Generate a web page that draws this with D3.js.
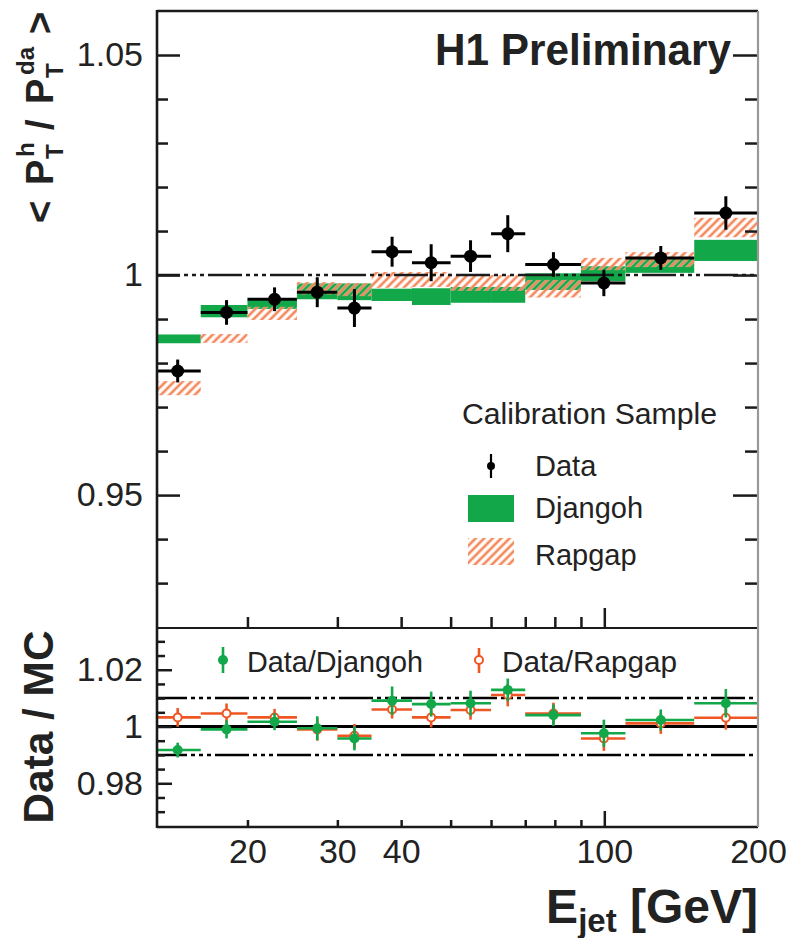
<!DOCTYPE html>
<html>
<head>
<meta charset="utf-8">
<script src="https://cdn.jsdelivr.net/npm/d3@7"></script>
<style>
  html, body { margin: 0; padding: 0; background: #fff; }
  svg text { font-family: "Liberation Sans", Arial, Helvetica, sans-serif; fill: #222; }
</style>
</head>
<body>
<svg id="chart" width="790" height="938"></svg>
<script>
// ---- Jet energy binning [GeV] ----
const binEdges   = [13.3, 16.2, 20, 25, 30, 35, 42, 50, 60, 70, 90, 110, 150, 200];
const binCentres = [14.6, 18.2, 22.6, 27.4, 32.4, 38.4, 45.8, 54.7, 64.7, 79.5, 99.8, 129, 173];

// ---- <P_T^h / P_T^da> : data points with statistical errors ----
const dataMean = [0.9782, 0.9915, 0.9945, 0.9961, 0.9925, 1.0053, 1.0028, 1.0043, 1.0094, 1.0024, 0.9982, 1.0039, 1.0141];
const dataErr  = [0.0026, 0.0028, 0.0027, 0.0034, 0.0043, 0.0034, 0.0042, 0.0036, 0.0042, 0.0028, 0.0030, 0.0027, 0.0038];

// ---- Monte Carlo bands (centre, half-width) ----
const djangohMean = [0.9855, 0.9918, 0.9933, 0.9963, 0.9962, 0.9955, 0.9951, 0.9955, 0.9955, 0.9985, 1.0003, 1.0023, 1.0056];
const djangohErr  = [0.0010, 0.0014, 0.0010, 0.0018, 0.0019, 0.0014, 0.0019, 0.0018, 0.0018, 0.0019, 0.0017, 0.0018, 0.0024];
const rapgapMean  = [0.9743, 0.9856, 0.9913, 0.9970, 0.9967, 0.9989, 0.9990, 0.9982, 0.9982, 0.9969, 1.0025, 1.0035, 1.0108];
const rapgapErr   = [0.0016, 0.0010, 0.0015, 0.0014, 0.0015, 0.0018, 0.0017, 0.0018, 0.0018, 0.0020, 0.0014, 0.0017, 0.0022];

// ---- Data / MC ratios ----
const ratioDjangoh    = [0.9917, 0.9990, 1.0017, 0.9994, 0.9958, 1.0091, 1.0079, 1.0082, 1.0129, 1.0040, 0.9976, 1.0023, 1.0082];
const ratioDjangohErr = [0.0026, 0.0032, 0.0030, 0.0042, 0.0042, 0.0050, 0.0044, 0.0044, 0.0040, 0.0038, 0.0048, 0.0037, 0.0050];
const ratioRapgap     = [1.0032, 1.0046, 1.0032, 0.9990, 0.9967, 1.0060, 1.0032, 1.0058, 1.0111, 1.0046, 0.9958, 1.0011, 1.0031];
const ratioRapgapErr  = [0.0033, 0.0035, 0.0030, 0.0040, 0.0042, 0.0032, 0.0035, 0.0034, 0.0040, 0.0038, 0.0044, 0.0037, 0.0042];

// ---- Axis ticks ----
const xLabelTicks   = [20, 30, 40, 100, 200];
const xMinorTicks   = [20, 30, 40, 50, 60, 70, 80, 90];
const xMajorTicks   = [100];
const yTopMajor     = [0.95, 1, 1.05];
const yTopMinor     = [0.93, 0.94, 0.96, 0.97, 0.98, 0.99, 1.01, 1.02, 1.03, 1.04];
const yBotMajor     = [0.98, 1, 1.02];
const yBotMinor     = [0.97, 0.975, 0.985, 0.99, 0.995, 1.005, 1.01, 1.015, 1.025, 1.03];
const ratioBandLines = [0.99, 1.01];

// ---- Layout ----
const L = 157, R = 758, T = 11, M = 628, B = 827;
const GREEN = "#12a84a", ORANGE = "#ee5624", INK = "#1a1a1a";
const DASHDOT = "34 4 4 4 4 4 4 4";

const svg = d3.select("#chart");
const x = d3.scaleLog().domain([13.3, 200]).range([L, R]);
const yTop = d3.scaleLinear().domain([0.9198, 1.06]).range([M, T]);
const yBot = d3.scaleLinear().domain([0.9646, 1.0347]).range([B, M]);

// Diagonal hatch for the Rapgap band
const defs = svg.append("defs");
const hatch = defs.append("pattern")
  .attr("id", "hatch").attr("patternUnits", "userSpaceOnUse")
  .attr("width", 6).attr("height", 6).attr("patternTransform", "rotate(45)");
hatch.append("line").attr("x1", 3).attr("y1", 0).attr("x2", 3).attr("y2", 6)
  .attr("stroke", "#fbc0a4").attr("stroke-width", 3.2);
hatch.append("line").attr("x1", 3).attr("y1", 0).attr("x2", 3).attr("y2", 6)
  .attr("stroke", "#f06a36").attr("stroke-width", 1.3);

defs.append("clipPath").attr("id", "clipTop").append("rect")
  .attr("x", L).attr("y", T).attr("width", R - L).attr("height", M - T);
defs.append("clipPath").attr("id", "clipBot").append("rect")
  .attr("x", L).attr("y", M).attr("width", R - L).attr("height", B - M);

const bins = binCentres.map((c, i) => ({ i, c, lo: binEdges[i], hi: binEdges[i + 1] }));

// ================= Upper panel =================
const upper = svg.append("g").attr("clip-path", "url(#clipTop)");

// Djangoh band
upper.append("g").selectAll("rect").data(bins).join("rect")
  .attr("x", d => x(d.lo)).attr("width", d => x(d.hi) - x(d.lo))
  .attr("y", d => yTop(djangohMean[d.i] + djangohErr[d.i]))
  .attr("height", d => yTop(djangohMean[d.i] - djangohErr[d.i]) - yTop(djangohMean[d.i] + djangohErr[d.i]))
  .attr("fill", GREEN);

// Rapgap band
upper.append("g").selectAll("rect").data(bins).join("rect")
  .attr("x", d => x(d.lo)).attr("width", d => x(d.hi) - x(d.lo))
  .attr("y", d => yTop(rapgapMean[d.i] + rapgapErr[d.i]))
  .attr("height", d => yTop(rapgapMean[d.i] - rapgapErr[d.i]) - yTop(rapgapMean[d.i] + rapgapErr[d.i]))
  .attr("fill", "url(#hatch)");

// Reference line at unity
upper.append("line").attr("x1", L).attr("x2", R).attr("y1", yTop(1)).attr("y2", yTop(1))
  .attr("stroke", INK).attr("stroke-width", 2.5).attr("stroke-dasharray", DASHDOT).attr("stroke-dashoffset", 11);

// Data points
const dp = upper.append("g").selectAll("g").data(bins).join("g");
dp.append("line")
  .attr("x1", d => x(d.lo)).attr("x2", d => x(d.hi))
  .attr("y1", d => yTop(dataMean[d.i])).attr("y2", d => yTop(dataMean[d.i]))
  .attr("stroke", "#000").attr("stroke-width", 3);
dp.append("line")
  .attr("x1", d => x(d.c)).attr("x2", d => x(d.c))
  .attr("y1", d => yTop(dataMean[d.i] - dataErr[d.i])).attr("y2", d => yTop(dataMean[d.i] + dataErr[d.i]))
  .attr("stroke", "#000").attr("stroke-width", 3);
dp.append("circle")
  .attr("cx", d => x(d.c)).attr("cy", d => yTop(dataMean[d.i])).attr("r", 6.5).attr("fill", "#000");

// ================= Ratio panel =================
const lower = svg.append("g").attr("clip-path", "url(#clipBot)");

lower.append("line").attr("x1", L).attr("x2", R).attr("y1", yBot(1)).attr("y2", yBot(1))
  .attr("stroke", "#000").attr("stroke-width", 3);
lower.append("g").selectAll("line").data(ratioBandLines).join("line")
  .attr("x1", L).attr("x2", R).attr("y1", d => yBot(d)).attr("y2", d => yBot(d))
  .attr("stroke", "#000").attr("stroke-width", 2.5).attr("stroke-dasharray", DASHDOT).attr("stroke-dashoffset", 4);

function ratioSeries(vals, errs, colour, open) {
  const g = lower.append("g").selectAll("g").data(bins).join("g");
  g.append("line")
    .attr("x1", d => x(d.lo)).attr("x2", d => x(d.hi))
    .attr("y1", d => yBot(vals[d.i])).attr("y2", d => yBot(vals[d.i]))
    .attr("stroke", colour).attr("stroke-width", 2.6);
  g.append("line")
    .attr("x1", d => x(d.c)).attr("x2", d => x(d.c))
    .attr("y1", d => yBot(vals[d.i] - errs[d.i])).attr("y2", d => yBot(vals[d.i] + errs[d.i]))
    .attr("stroke", colour).attr("stroke-width", 2.6);
  g.append("circle")
    .attr("cx", d => x(d.c)).attr("cy", d => yBot(vals[d.i]))
    .attr("r", open ? 4 : 5)
    .attr("fill", open ? "#fff" : colour)
    .attr("stroke", colour).attr("stroke-width", open ? 2 : 0);
}
ratioSeries(ratioRapgap, ratioRapgapErr, ORANGE, true);
ratioSeries(ratioDjangoh, ratioDjangohErr, GREEN, false);

// ================= Axes =================
const fmt = d => d === 1 ? "1" : d3.format(".2f")(d);
function styleAxis(g) {
  g.select(".domain").remove();
  g.selectAll(".tick line").attr("stroke", INK).attr("stroke-width", 2.5);
  g.selectAll(".tick text").attr("font-size", 34).attr("fill", "#222")
    .attr("font-family", '"Liberation Sans", Arial, sans-serif');
}

// Upper panel, left
svg.append("g").attr("transform", `translate(${L},0)`)
  .call(d3.axisRight(yTop).tickValues(yTopMinor).tickSize(11).tickFormat(""))
  .call(styleAxis);
svg.append("g").attr("transform", `translate(${L},0)`)
  .call(d3.axisLeft(yTop).tickValues(yTopMajor).tickSize(-23).tickPadding(14).tickFormat(fmt))
  .call(styleAxis);
// Upper panel, right
svg.append("g").attr("transform", `translate(${R},0)`)
  .call(d3.axisLeft(yTop).tickValues(yTopMinor).tickSize(13).tickFormat(""))
  .call(styleAxis);
svg.append("g").attr("transform", `translate(${R},0)`)
  .call(d3.axisLeft(yTop).tickValues(yTopMajor).tickSize(25).tickFormat(""))
  .call(styleAxis);
// Upper panel, bottom edge
svg.append("g").attr("transform", `translate(0,${M})`)
  .call(d3.axisTop(x).tickValues(xMinorTicks).tickSize(11).tickFormat(""))
  .call(styleAxis);
svg.append("g").attr("transform", `translate(0,${M})`)
  .call(d3.axisTop(x).tickValues(xMajorTicks).tickSize(20).tickFormat(""))
  .call(styleAxis);

// Ratio panel, left
svg.append("g").attr("transform", `translate(${L},0)`)
  .call(d3.axisRight(yBot).tickValues(yBotMinor).tickSize(8).tickFormat(""))
  .call(styleAxis);
svg.append("g").attr("transform", `translate(${L},0)`)
  .call(d3.axisLeft(yBot).tickValues(yBotMajor).tickSize(-15).tickPadding(14).tickFormat(fmt))
  .call(styleAxis);
// Ratio panel, bottom edge
svg.append("g").attr("transform", `translate(0,${B})`)
  .call(d3.axisTop(x).tickValues(xMinorTicks).tickSize(7).tickFormat(""))
  .call(styleAxis);
svg.append("g").attr("transform", `translate(0,${B})`)
  .call(d3.axisTop(x).tickValues(xMajorTicks).tickSize(16).tickFormat(""))
  .call(styleAxis);
svg.append("g").attr("transform", `translate(0,${B})`)
  .call(d3.axisBottom(x).tickValues(xLabelTicks).tickSize(0).tickPadding(12).tickFormat(d3.format("d")))
  .call(styleAxis);

// Frame
const frame = svg.append("g");
frame.append("line").attr("x1", L).attr("x2", L).attr("y1", T - 1).attr("y2", B + 1).attr("stroke", INK).attr("stroke-width", 2.6);
frame.append("line").attr("x1", L).attr("x2", R).attr("y1", T).attr("y2", T).attr("stroke", INK).attr("stroke-width", 2.6);
frame.append("line").attr("x1", L).attr("x2", R).attr("y1", M).attr("y2", M).attr("stroke", INK).attr("stroke-width", 2.2);
frame.append("line").attr("x1", L).attr("x2", R).attr("y1", B).attr("y2", B).attr("stroke", INK).attr("stroke-width", 2.4);
frame.append("line").attr("x1", R).attr("x2", R).attr("y1", T).attr("y2", B).attr("stroke", "#999").attr("stroke-width", 2.2);

// ================= Text =================
svg.append("text").attr("x", 435).attr("y", 65)
  .attr("font-size", 45).attr("font-weight", "bold")
  .attr("textLength", 296).attr("lengthAdjust", "spacingAndGlyphs")
  .text("H1 Preliminary");

// Legend, upper panel
svg.append("text").attr("x", 462).attr("y", 424).attr("font-size", 29).attr("fill", "#333")
  .attr("textLength", 255).attr("lengthAdjust", "spacingAndGlyphs").text("Calibration Sample");
const leg = svg.append("g");
leg.append("line").attr("x1", 491).attr("x2", 491).attr("y1", 454).attr("y2", 478).attr("stroke", "#000").attr("stroke-width", 2.2);
leg.append("circle").attr("cx", 491).attr("cy", 466).attr("r", 4).attr("fill", "#000");
leg.append("text").attr("x", 535).attr("y", 476).attr("font-size", 29).text("Data");
leg.append("rect").attr("x", 468).attr("y", 495).attr("width", 46).attr("height", 27).attr("fill", GREEN);
leg.append("text").attr("x", 535).attr("y", 518).attr("font-size", 29).text("Djangoh");
leg.append("rect").attr("x", 468).attr("y", 538).attr("width", 46).attr("height", 27).attr("fill", "url(#hatch)");
leg.append("text").attr("x", 535).attr("y", 565).attr("font-size", 29).attr("fill", "#444").text("Rapgap");

// Legend, ratio panel
const leg2 = svg.append("g");
leg2.append("line").attr("x1", 223).attr("x2", 223).attr("y1", 647).attr("y2", 673).attr("stroke", GREEN).attr("stroke-width", 2.6);
leg2.append("circle").attr("cx", 223).attr("cy", 660).attr("r", 5).attr("fill", GREEN);
leg2.append("text").attr("x", 247).attr("y", 672).attr("font-size", 30).attr("fill", "#444")
  .attr("textLength", 176).attr("lengthAdjust", "spacingAndGlyphs").text("Data/Djangoh");
leg2.append("line").attr("x1", 479).attr("x2", 479).attr("y1", 648).attr("y2", 673).attr("stroke", ORANGE).attr("stroke-width", 2.6);
leg2.append("circle").attr("cx", 479).attr("cy", 660).attr("r", 4).attr("fill", "#fff").attr("stroke", ORANGE).attr("stroke-width", 2);
leg2.append("text").attr("x", 502).attr("y", 672).attr("font-size", 30).attr("fill", "#444")
  .attr("textLength", 175).attr("lengthAdjust", "spacingAndGlyphs").text("Data/Rapgap");

// X axis title
const xt = svg.append("text").attr("x", R).attr("y", 923).attr("text-anchor", "end")
  .attr("font-size", 48).attr("font-weight", "bold");
xt.append("tspan").text("E");
xt.append("tspan").attr("font-size", 33).attr("dy", 9).text("jet");
xt.append("tspan").attr("dy", -9).text(" [GeV]");

// Y axis title, ratio panel
svg.append("text").attr("transform", "translate(53,727) rotate(-90)")
  .attr("text-anchor", "middle").attr("font-size", 43).attr("font-weight", "bold")
  .attr("textLength", 193).attr("lengthAdjust", "spacingAndGlyphs")
  .text("Data / MC");

// Y axis title, upper panel: < P_T^h / P_T^da >
const yl = svg.append("g").attr("transform", "translate(53,223) rotate(-90)")
  .attr("font-weight", "bold");
const ylParts = [
  { t: "<",  x: 0,   y: 0,   s: 38 },
  { t: "P",  x: 38,  y: 0,   s: 38 },
  { t: "T",  x: 64,  y: 10,  s: 24 },
  { t: "h",  x: 66,  y: -19, s: 24 },
  { t: "/",  x: 93,  y: 0,   s: 38 },
  { t: "P",  x: 119, y: 0,   s: 38 },
  { t: "T",  x: 145, y: 10,  s: 24 },
  { t: "da", x: 148, y: -19, s: 24 },
  { t: ">",  x: 189, y: 0,   s: 38 }
];
yl.selectAll("text").data(ylParts).join("text")
  .attr("x", d => d.x).attr("y", d => d.y).attr("font-size", d => d.s).text(d => d.t);
</script>
</body>
</html>
